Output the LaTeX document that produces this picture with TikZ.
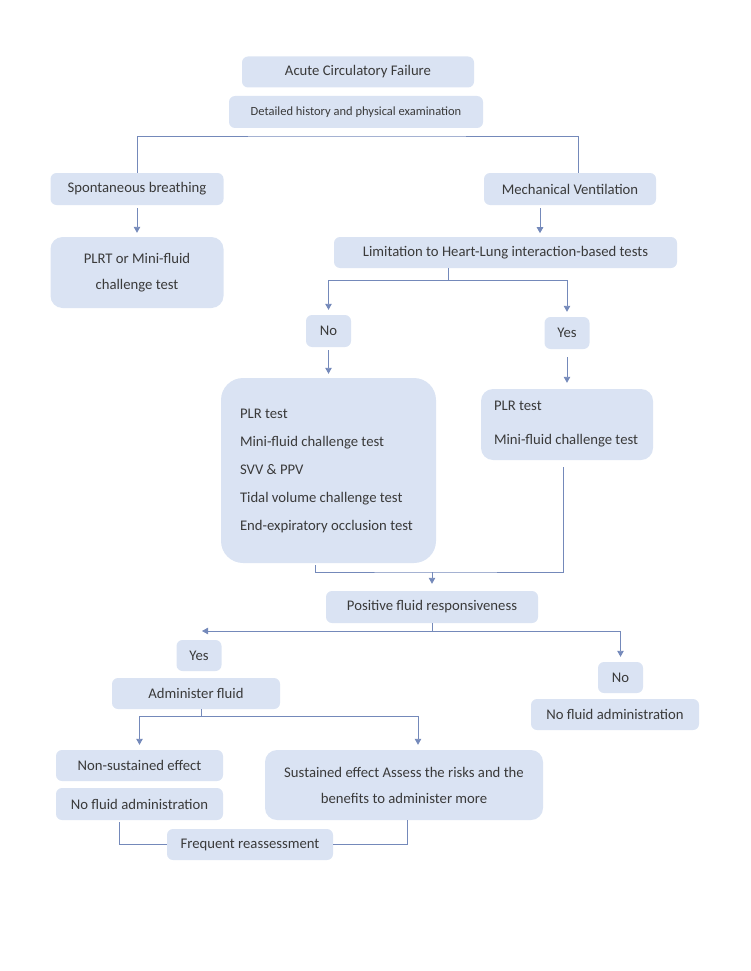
\documentclass[tikz,border=0pt]{standalone}
\usepackage{fontspec}
\setmainfont{Carlito}
\usepackage{xcolor}
\usetikzlibrary{arrows.meta}
\definecolor{boxfill}{HTML}{DAE3F3}
\definecolor{conncol}{HTML}{7489BA}
\definecolor{txtcol}{HTML}{3A3A3A}
\begin{document}
\begin{tikzpicture}[x=1pt,y=-1pt,
  box/.style={rectangle, rounded corners=6pt, fill=boxfill, text=txtcol, inner sep=0pt, align=center, font=\fontsize{14.7}{17}\selectfont},
  conn/.style={draw=conncol, line width=0.9pt},
  arr/.style={conn, -{Triangle[length=6pt,width=6.5pt]}}]
\useasboundingbox (0,0) rectangle (750,971);

\node[box, minimum width=232pt, minimum height=31pt] (acute) at (358,72) {Acute Circulatory Failure};
\node[box, minimum width=254pt, minimum height=32pt, font=\fontsize{12.5}{15}\selectfont] (hist) at (356,112) {Detailed history and physical examination};
\node[box, minimum width=173pt, minimum height=32pt] (spont) at (137,189) {Spontaneous breathing};
\node[box, minimum width=172pt, minimum height=32pt] (mech) at (570,189) {Mechanical Ventilation};
\node[box, rounded corners=12pt, minimum width=173pt, minimum height=71pt] (plrt) at (137,272.5) {PLRT or Mini-fluid\\[9pt]challenge test};
\node[box, minimum width=343pt, minimum height=31pt] (lim) at (505.5,252.5) {Limitation to Heart-Lung interaction-based tests};
\node[box, minimum width=45pt, minimum height=32pt] (no1) at (328.5,331) {No};
\node[box, minimum width=45pt, minimum height=32pt] (yes1) at (567,333) {Yes};
\node[box, rounded corners=22pt, minimum width=215pt, minimum height=185pt, text width=177pt, align=flush left] (tests) at (328.5,470.5) {PLR test\\[11pt]Mini-fluid challenge test\\[11pt]SVV \& PPV\\[11pt]Tidal volume challenge test\\[11pt]End-expiratory occlusion test\\[-9pt]};
\node[box, rounded corners=12pt, minimum width=172pt, minimum height=71pt, text width=146pt, align=flush left] (right) at (567,424.5) {PLR test\\[17pt]Mini-fluid challenge test};
\node[box, minimum width=212pt, minimum height=32pt] (pos) at (432,607) {Positive fluid responsiveness};
\node[box, minimum width=45pt, minimum height=31pt] (yes2) at (199,655.5) {Yes};
\node[box, minimum width=168pt, minimum height=31pt] (adm) at (196,693.5) {Administer fluid};
\node[box, minimum width=45pt, minimum height=31pt] (no2) at (620.5,677.5) {No};
\node[box, minimum width=168pt, minimum height=31pt] (nofl2) at (615,714.5) {No fluid administration};
\node[box, minimum width=167pt, minimum height=31pt] (nons) at (139.5,765.5) {Non-sustained effect};
\node[box, minimum width=167pt, minimum height=32pt] (nofl1) at (139.5,804) {No fluid administration};
\node[box, rounded corners=12pt, minimum width=278pt, minimum height=70pt] (sust) at (404,785) {Sustained effect Assess the risks and the\\[9pt]benefits to administer more};
\node[box, minimum width=166pt, minimum height=31pt] (freq) at (250,844.5) {Frequent reassessment};

\coordinate (s1) at (356,136);
\coordinate (s2) at (448,280);
\coordinate (s3) at (432,572);
\coordinate (s4) at (432,631);
\coordinate (s4l) at (202,631);
\coordinate (s5) at (201,716);

\draw[conn] (spont.north) |- (s1) -| ([xshift=8pt]mech.north);
\draw[arr] ([yshift=-3pt]spont.south) -- ([yshift=4pt]plrt.north);
\draw[arr] ([xshift=-30pt,yshift=-3pt]mech.south) -- ++(0,25);
\draw[conn] ([xshift=-57.5pt]lim.south) -- (s2);
\draw[arr] (s2) -| ([yshift=5pt]no1.north);
\draw[arr] (s2) -| ([yshift=5pt]yes1.north);
\draw[arr] ([yshift=-3pt]no1.south) -- ([yshift=4pt]tests.north);
\draw[arr] ([yshift=-8pt]yes1.south) -- ([yshift=6pt]right.north);
\draw[conn] ([xshift=-13.5pt,yshift=-2pt]tests.south) |- (s3) -| ([xshift=-4pt,yshift=-7pt]right.south);
\draw[arr] (s3) -- ([yshift=7pt]pos.north);
\draw[conn] (pos.south) -- (s4);
\draw[arr] (s4) -- (s4l);
\draw[arr] (s4) -| ([yshift=5pt]no2.north);
\draw[conn] ([xshift=5pt]adm.south) -- (s5);
\draw[arr] (s5) -| ([yshift=5pt]nons.north);
\draw[arr] (s5) -| ([xshift=14pt,yshift=5pt]sust.north);
\draw[conn] ([xshift=-20.5pt,yshift=-2pt]nofl1.south) |- (freq.west);
\draw[conn] ([xshift=3pt]sust.south) |- (freq.east);
\end{tikzpicture}
\end{document}
